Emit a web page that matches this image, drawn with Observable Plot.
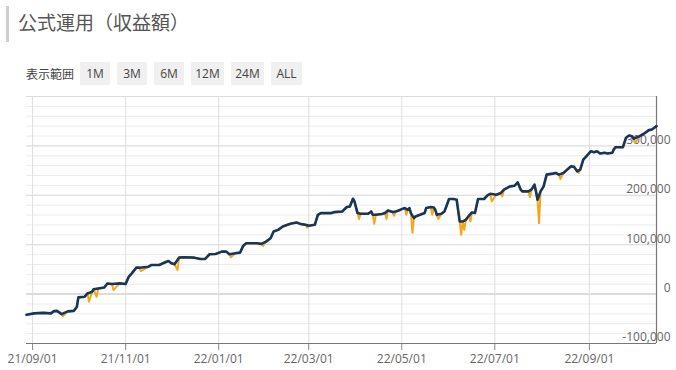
<!DOCTYPE html>
<html><head><meta charset="utf-8">
<script src="https://cdn.jsdelivr.net/npm/d3@7"></script>
<script src="https://cdn.jsdelivr.net/npm/@observablehq/plot@0.6"></script>
<style>
body{margin:0;background:#fff;width:676px;height:370px;overflow:hidden;position:relative;font-family:"Noto Sans CJK JP","Noto Sans",sans-serif}
#bar{position:absolute;left:6px;top:6px;width:3px;height:36px;background:#cfcfcf}
#title{position:absolute;left:18px;top:8px;font-size:19px;line-height:28px;color:#555;white-space:nowrap}
#range{position:absolute;left:26px;top:62px;height:23px;display:flex;align-items:center;font-size:12px;color:#444}
#range .lab{width:54px}
#range .btn{background:#f0f0f0;height:23px;line-height:23px;text-align:center;margin-right:7px;font-family:"Open Sans","Noto Sans",sans-serif}
#chart{position:absolute;left:0;top:90px}
</style></head>
<body>
<div id="bar"></div>
<div id="title">公式運用（収益額）</div>
<div id="range"><span class="lab">表示範囲</span></div>
<div id="chart"></div>
<script>
const rangeButtons = ["1M","3M","6M","12M","24M","ALL"];
const buttonWidths = [30,30,30,33,33,31];

const navyDates = ["2021-08-28","2021-09-02","2021-09-08","2021-09-13","2021-09-15","2021-09-17","2021-09-20","2021-09-24","2021-09-28","2021-09-30",
"2021-10-01","2021-10-05","2021-10-07","2021-10-10","2021-10-11","2021-10-14","2021-10-18","2021-10-20","2021-10-23","2021-10-28",
"2021-11-01","2021-11-03","2021-11-05","2021-11-08","2021-11-10","2021-11-16","2021-11-18","2021-11-23","2021-11-27","2021-11-29",
"2021-12-01","2021-12-03","2021-12-06","2021-12-09","2021-12-16","2021-12-20","2021-12-23","2021-12-26","2021-12-30",
"2022-01-03","2022-01-06","2022-01-08","2022-01-12","2022-01-15","2022-01-17","2022-01-19","2022-01-26","2022-01-29",
"2022-02-01","2022-02-04","2022-02-06","2022-02-09","2022-02-12","2022-02-17","2022-02-21","2022-02-24","2022-02-27",
"2022-03-01","2022-03-05","2022-03-07","2022-03-09","2022-03-16","2022-03-18","2022-03-23","2022-03-26","2022-03-28","2022-03-30","2022-03-31",
"2022-04-02","2022-04-04","2022-04-09","2022-04-11","2022-04-12","2022-04-14","2022-04-18","2022-04-20","2022-04-22","2022-04-25","2022-04-27","2022-04-29",
"2022-05-01","2022-05-03","2022-05-05","2022-05-06","2022-05-07","2022-05-09","2022-05-10","2022-05-13","2022-05-16","2022-05-17","2022-05-20","2022-05-22","2022-05-23","2022-05-24","2022-05-27","2022-05-29",
"2022-06-01","2022-06-04","2022-06-06","2022-06-08","2022-06-10","2022-06-12","2022-06-14","2022-06-16","2022-06-18","2022-06-20","2022-06-24","2022-06-26","2022-06-28",
"2022-07-02","2022-07-05","2022-07-07","2022-07-11","2022-07-14","2022-07-16","2022-07-18","2022-07-19","2022-07-23","2022-07-25","2022-07-27","2022-07-28","2022-07-29","2022-07-31",
"2022-08-02","2022-08-04","2022-08-08","2022-08-10","2022-08-12","2022-08-15","2022-08-17","2022-08-20","2022-08-22","2022-08-24","2022-08-26","2022-08-28","2022-08-30",
"2022-09-02","2022-09-04","2022-09-06","2022-09-08","2022-09-11","2022-09-13","2022-09-16","2022-09-17","2022-09-18","2022-09-23","2022-09-25","2022-09-27","2022-09-29","2022-09-30",
"2022-10-04","2022-10-07","2022-10-10","2022-10-12","2022-10-15"];
const navyValues = [-42000,-39000,-38000,-39000,-34500,-34000,-40500,-35000,-34000,-26000,
-6700,-5500,1400,4700,10000,11500,13500,21500,20300,21700,
20300,35000,42000,53500,53500,55500,59000,59000,64500,67000,
62400,60400,73800,74600,73800,71000,71000,80700,81300,
86000,86000,80700,82700,84000,97500,103000,103000,101600,
106300,113200,126600,130000,136800,142300,145000,141700,140200,
138200,140200,160500,164000,164000,166000,167300,176200,177400,193000,187600,
164000,162600,162600,167300,160500,160500,162000,164000,169300,166000,167300,169300,
172000,174200,170700,174200,164000,153900,157100,160500,164000,174200,176200,175400,170700,160500,162600,167300,
192500,192500,191000,147000,147000,150400,158500,165200,164000,192500,192500,199200,203200,
201200,204700,211400,218100,219500,226200,211400,207900,207900,211400,221500,207900,191000,207900,
218100,241900,243900,245300,241900,245300,250600,258700,257500,248600,252000,272300,279000,
289200,287200,289200,284500,286000,284500,286000,292700,297400,297400,316500,321100,319700,314400,
319700,325200,331900,333300,340000];

// orange series: dips below the navy line
const dipDates = ["2021-09-21","2021-10-08","2021-10-13","2021-10-24","2021-11-11","2021-12-05","2022-01-09","2022-01-30","2022-02-28",
"2022-04-03","2022-04-13","2022-04-21","2022-04-26","2022-05-04","2022-05-08","2022-05-21","2022-05-25","2022-06-09","2022-06-11","2022-06-15",
"2022-06-29","2022-07-06","2022-07-24","2022-07-30","2022-08-13","2022-08-25","2022-10-01"];
const dipValues = [-44700,-15600,-5500,8100,46700,48800,74600,97500,134700,
151800,142300,151800,158500,160500,124000,160500,151800,120000,130000,147000,
187600,197800,196500,143700,233100,245300,306000];

const xTicks = ["2021-09-01","2021-11-01","2022-01-01","2022-03-01","2022-05-01","2022-07-01","2022-09-01"];
const yLabelTicks = [-100000,0,100000,200000,300000];
const yMinorTicks = d3.range(-100000, 400001, 20000);
const yMajorTicks = [-100000,0,100000,200000,300000,400000];
const xDomain = ["2021-08-28","2022-10-15"];
const yDomain = [-100000, 400000];

// build buttons
const range = document.getElementById("range");
rangeButtons.forEach((b,i)=>{const s=document.createElement("span");s.className="btn";s.style.width=buttonWidths[i]+"px";s.textContent=b;range.appendChild(s);});

const parse = d3.utcParse("%Y-%m-%d");
const navy = navyDates.map((d,i)=>({date:parse(d), value:navyValues[i]}));
const dips = dipDates.map((d,i)=>({date:parse(d), value:dipValues[i]}));
const orange = navy.concat(dips).sort((a,b)=>a.date-b.date);
const xEnd = parse(xDomain[1]);

const chart = Plot.plot({
  width: 676, height: 280,
  marginLeft: 26, marginRight: 20, marginTop: 6, marginBottom: 27,
  style: {fontFamily: "'Open Sans','Noto Sans',sans-serif", fontSize: "12px", color: "#666", overflow: "visible", background: "transparent"},
  x: {type: "utc", domain: xDomain.map(parse), axis: null},
  y: {domain: yDomain, axis: null},
  marks: [
    Plot.ruleY(yMinorTicks, {stroke: "#ececec", strokeWidth: 1}),
    Plot.ruleY(yMajorTicks, {stroke: "#dcdcdc", strokeWidth: 1}),
    Plot.ruleY([0], {stroke: "#dcdcdc", strokeWidth: 2}),
    Plot.ruleX(xTicks.map(parse), {stroke: "#dedede", strokeWidth: 1}),
    Plot.text(yLabelTicks, {y: d=>d, text: d=>d3.format(",")(d).replace("−","-"), frameAnchor: "right", textAnchor: "end", dx: 14, dy: -6, fill: "#666", fontSize: 12}),
    Plot.axisX({ticks: xTicks.map(parse), tickFormat: d3.utcFormat("%y/%m/%d"), tickSize: 7, tickPadding: 4, stroke: "#888", fill: "#666", label: null}),
    Plot.ruleY([yDomain[0]], {stroke: "#777", strokeWidth: 1.2}),
    Plot.ruleX([xEnd], {stroke: "#777", strokeWidth: 1.2}),
    Plot.line(orange, {x: "date", y: "value", stroke: "#f5a71c", strokeWidth: 2, strokeLinejoin: "round"}),
    Plot.line(navy, {x: "date", y: "value", stroke: "#18355a", strokeWidth: 2.6, strokeLinejoin: "round", strokeLinecap: "round"})
  ]
});
document.getElementById("chart").appendChild(chart);
</script>
</body></html>
